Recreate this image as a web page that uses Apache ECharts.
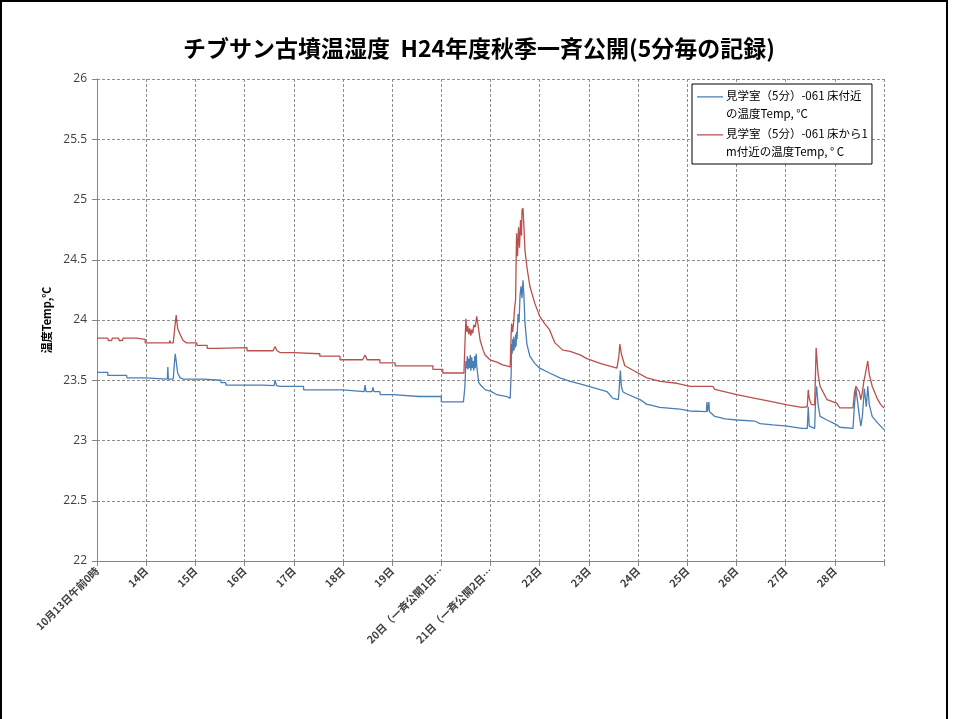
<!DOCTYPE html>
<html>
<head>
<meta charset="utf-8">
<script src="https://cdn.jsdelivr.net/npm/echarts@6/dist/echarts.min.js"></script>
<style>
html,body{margin:0;padding:0;background:#fff;}
#chart{width:958px;height:719px;}
</style>
</head>
<body>
<div id="chart"></div>
<script>
// Chart texts
const titleText = 'チブサン古墳温湿度  H24年度秋季一斉公開(5分毎の記録)';
const yAxisName = '温度Temp,℃';
const seriesNames = ['見学室（5分）-061 床付近\nの温度Temp, °C', '見学室（5分）-061 床から1\nm付近の温度Temp, ° C'];

// X tick labels (one per day, day 0 = 10/13 00:00)
const xLabels = ['10月13日午前0時','14日','15日','16日','17日','18日','19日',
  '20日（一斉公開1日…','21日（一斉公開2日…','22日','23日','24日','25日','26日','27日','28日',''];

// Y ticks
const yMin = 22, yMax = 26, yStep = 0.5;

// Floor temperature [day, °C]
const floorTemp = [
[0,23.565],[0.22,23.565],[0.22,23.54],[0.6,23.54],[0.61,23.52],[0.99,23.52],[1.0,23.51],[1.43,23.51],[1.44,23.61],[1.45,23.51],
[1.55,23.51],[1.57,23.62],[1.59,23.72],[1.61,23.66],[1.64,23.56],[1.69,23.52],[1.76,23.51],[2.15,23.51],[2.15,23.50],[2.52,23.50],
[2.52,23.48],[2.62,23.48],[2.62,23.46],[3.38,23.46],[3.39,23.455],[3.60,23.455],[3.62,23.50],[3.65,23.455],[3.72,23.45],[4.2,23.45],
[4.2,23.42],[5.0,23.42],[5.0,23.405],[5.43,23.405],[5.45,23.46],[5.47,23.405],[5.59,23.405],[5.61,23.44],[5.63,23.405],[5.75,23.405],
[5.76,23.38],[6.02,23.38],[6.02,23.365],[6.55,23.365],[6.56,23.355],[6.58,23.365],[7.0,23.365],[7.0,23.32],[7.45,23.32],
[7.48,23.45],[7.50,23.66],[7.51,23.60],[7.53,23.70],[7.54,23.59],[7.56,23.68],[7.57,23.60],[7.59,23.71],[7.60,23.58],[7.62,23.69],
[7.63,23.60],[7.65,23.66],[7.66,23.58],[7.68,23.70],[7.69,23.60],[7.71,23.72],[7.72,23.62],[7.74,23.55],[7.76,23.48],[7.82,23.45],
[7.9,23.42],[8.0,23.41],[8.13,23.38],[8.33,23.365],[8.40,23.35],
[8.42,23.55],[8.43,23.80],[8.44,23.72],[8.45,23.84],[8.46,23.74],[8.47,23.86],[8.48,23.75],[8.49,23.84],[8.50,23.77],[8.51,23.88],
[8.52,23.78],[8.53,23.90],[8.54,23.84],[8.56,24.05],[8.58,23.98],[8.60,24.20],[8.62,24.28],[8.64,24.18],[8.66,24.33],[8.68,24.20],
[8.70,23.98],[8.74,23.80],[8.80,23.70],[8.90,23.64],[9.0,23.60],[9.2,23.56],[9.41,23.52],[9.62,23.49],[9.82,23.47],[10.16,23.43],
[10.37,23.405],[10.49,23.35],[10.6,23.34],[10.62,23.45],[10.64,23.58],[10.66,23.45],[10.69,23.405],[10.75,23.39],[11.04,23.34],[11.18,23.30],
[11.24,23.295],[11.44,23.275],[11.85,23.26],[12.05,23.245],[12.39,23.24],[12.40,23.32],[12.41,23.24],[12.43,23.24],[12.44,23.32],[12.45,23.24],
[12.56,23.20],[12.77,23.18],[13.01,23.17],[13.38,23.16],[13.48,23.14],[13.74,23.13],[14.03,23.12],[14.33,23.10],[14.44,23.10],[14.46,23.28],
[14.48,23.12],[14.59,23.10],[14.61,23.35],[14.63,23.45],[14.66,23.30],[14.70,23.20],[14.84,23.17],[15.04,23.13],[15.1,23.11],[15.37,23.10],
[15.40,23.30],[15.43,23.43],[15.47,23.42],[15.50,23.20],[15.53,23.12],[15.56,23.20],[15.60,23.43],[15.64,23.28],[15.67,23.45],[15.70,23.30],
[15.76,23.20],[15.86,23.15],[16.0,23.09]
];

// 1 m above floor temperature [day, °C]
const oneMeterTemp = [
[0,23.85],[0.22,23.85],[0.23,23.83],[0.30,23.83],[0.31,23.85],[0.44,23.85],[0.45,23.83],[0.52,23.83],[0.53,23.85],[0.8,23.85],
[0.8,23.84],[0.98,23.84],[0.98,23.81],[1.47,23.81],[1.48,23.83],[1.49,23.81],[1.55,23.81],[1.58,23.93],[1.61,24.04],[1.64,23.93],
[1.69,23.88],[1.75,23.83],[1.82,23.81],[2.03,23.81],[2.03,23.79],[2.24,23.79],[2.24,23.765],[2.44,23.765],[2.44,23.77],[3.05,23.77],
[3.05,23.745],[3.42,23.745],[3.44,23.75],[3.46,23.745],[3.58,23.745],[3.62,23.78],[3.66,23.745],[3.72,23.73],[3.99,23.73],[3.99,23.72],
[4.53,23.72],[4.53,23.70],[4.94,23.70],[4.94,23.67],[5.40,23.67],[5.45,23.71],[5.49,23.67],[5.75,23.67],[5.75,23.645],[6.06,23.645],
[6.06,23.62],[6.83,23.62],[6.83,23.59],[7.03,23.59],[7.03,23.56],[7.46,23.56],
[7.48,23.80],[7.50,24.01],[7.52,23.90],[7.54,23.95],[7.56,23.88],[7.58,23.93],[7.60,23.87],[7.62,23.92],[7.64,23.89],[7.66,23.96],
[7.69,23.94],[7.72,24.03],[7.75,23.95],[7.79,23.83],[7.85,23.75],[7.89,23.71],[7.99,23.67],[8.13,23.65],[8.23,23.63],[8.40,23.61],
[8.42,23.88],[8.43,23.97],[8.45,23.90],[8.47,23.98],[8.49,24.10],[8.51,24.17],[8.52,24.45],[8.53,24.72],[8.55,24.53],[8.57,24.77],
[8.59,24.60],[8.61,24.83],[8.63,24.70],[8.64,24.91],[8.66,24.93],[8.68,24.77],[8.70,24.58],[8.74,24.44],[8.80,24.28],[8.90,24.14],
[9.0,24.03],[9.1,23.97],[9.2,23.92],[9.31,23.81],[9.47,23.75],[9.62,23.74],[9.82,23.71],[9.96,23.68],[10.23,23.64],[10.57,23.60],
[10.61,23.70],[10.63,23.80],[10.66,23.72],[10.73,23.62],[11.0,23.56],[11.18,23.52],[11.45,23.49],[11.79,23.475],[12.06,23.45],[12.42,23.45],
[12.46,23.46],[12.52,23.45],[12.56,23.425],[13.01,23.38],[13.38,23.35],[13.74,23.32],[14.03,23.295],[14.33,23.275],[14.44,23.28],[14.46,23.42],
[14.48,23.35],[14.52,23.30],[14.59,23.295],[14.61,23.60],[14.62,23.77],[14.66,23.55],[14.70,23.45],[14.84,23.34],[15.04,23.31],[15.10,23.27],
[15.37,23.27],[15.40,23.40],[15.43,23.45],[15.47,23.46],[15.50,23.40],[15.53,23.34],[15.56,23.40],[15.59,23.49],[15.62,23.55],[15.67,23.66],
[15.70,23.55],[15.76,23.45],[15.86,23.35],[15.93,23.30],[16.0,23.27]
];

const chart = echarts.init(document.getElementById('chart'), null, {renderer:'canvas'});
const jp = '"Noto Sans CJK JP", "Noto Sans", sans-serif';
chart.setOption({
  animation:false,
  backgroundColor:'#fff',
  textStyle:{fontFamily:jp},
  graphic:[{type:'rect', shape:{x:1,y:1,width:946,height:740}, style:{fill:'none', stroke:'#000', lineWidth:2}, silent:true}],
  title:{text:titleText, left:'center', top:32, textStyle:{fontSize:23, fontWeight:'bold', color:'#000', fontFamily:jp}},
  grid:{left:97, right:74, top:79, bottom:158, containLabel:false},
  legend:{
    left:692, top:84, orient:'vertical', itemGap:2, itemWidth:26, itemHeight:18,
    icon:'path://M0,0H27V1.3H0Z M0,18H0.05V18.05H0Z',
    borderColor:'#000', borderWidth:1, padding:[3,4,3,5], backgroundColor:'#fff',
    textStyle:{fontSize:11.5, lineHeight:18, color:'#000', fontFamily:jp, padding:[0,0,0,-2]},
    data:seriesNames
  },
  xAxis:{
    type:'value', min:0, max:16, interval:1,
    axisLine:{show:true, lineStyle:{color:'#868686'}},
    axisTick:{show:true, length:5, lineStyle:{color:'#868686'}},
    splitLine:{show:true, lineStyle:{color:'#8c8c8c', type:[3,2], width:1}},
    axisLabel:{rotate:45, margin:8, fontSize:10.5, fontWeight:'bold', color:'#404040', fontFamily:jp,
      formatter:function(v){ return xLabels[Math.round(v)] || ''; }}
  },
  yAxis:{
    type:'value', min:yMin, max:yMax, interval:yStep,
    name:yAxisName, nameLocation:'middle', nameGap:40,
    nameTextStyle:{fontSize:11, fontWeight:'bold', color:'#000', fontFamily:jp},
    axisLine:{show:true, lineStyle:{color:'#868686'}},
    axisTick:{show:true, length:5, lineStyle:{color:'#868686'}},
    splitLine:{show:true, lineStyle:{color:'#8c8c8c', type:[3,2], width:1}},
    axisLabel:{fontSize:12, color:'#404040', margin:10, fontFamily:'"Open Sans", "Noto Sans", sans-serif'}
  },
  series:[
    {name:seriesNames[0], type:'line', data:floorTemp, showSymbol:false, symbol:'none',
     lineStyle:{color:'#4a7eb5', width:1.3}, itemStyle:{color:'#4a7eb5'}},
    {name:seriesNames[1], type:'line', data:oneMeterTemp, showSymbol:false, symbol:'none',
     lineStyle:{color:'#b9504d', width:1.3}, itemStyle:{color:'#b9504d'}}
  ]
});
</script>
</body>
</html>
